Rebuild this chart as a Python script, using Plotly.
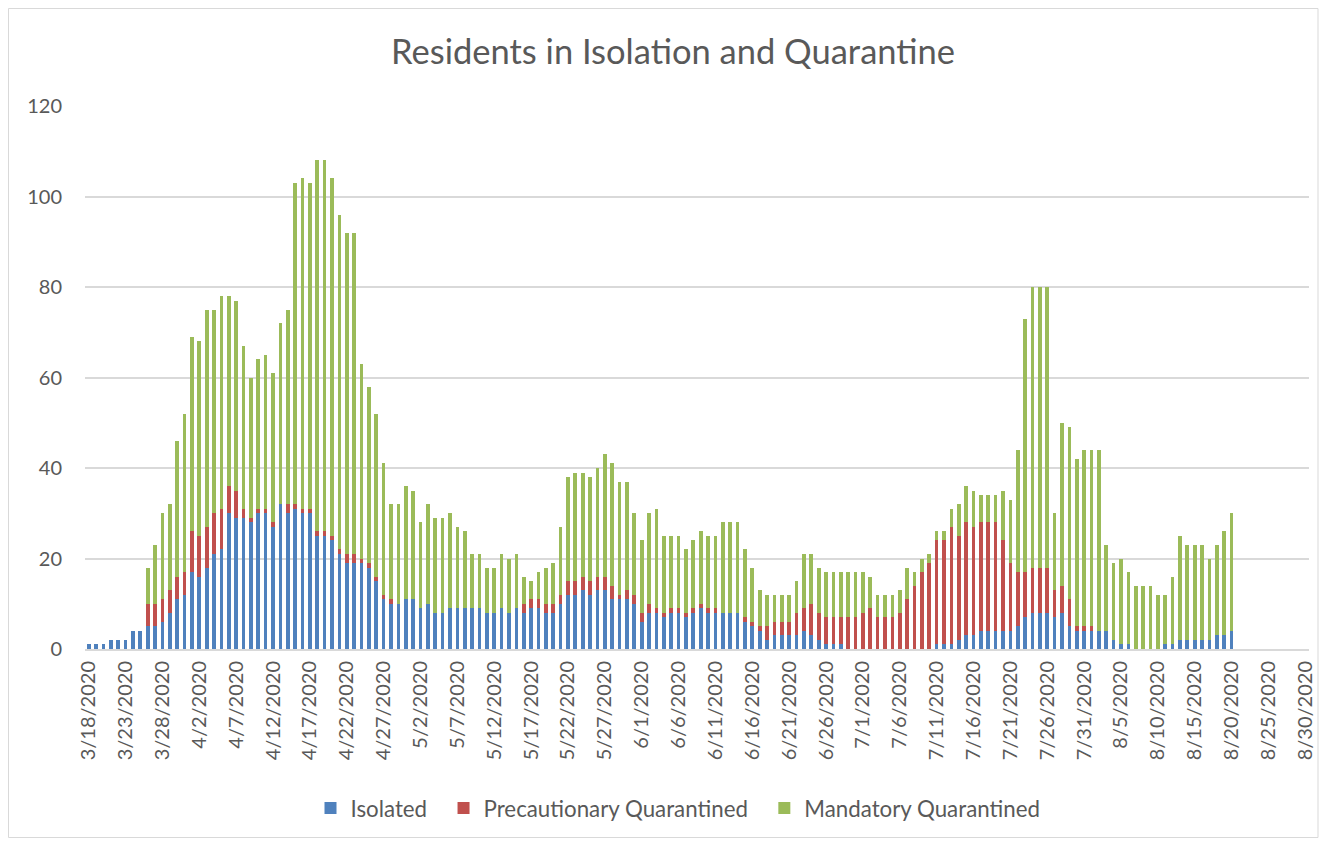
import pandas as pd
import plotly.graph_objects as go

title = "Residents in Isolation and Quarantine"
start_date = "2020-03-18"
end_date = "2020-08-30"
dates = [f"{d.month}/{d.day}/{d.year}" for d in pd.date_range(start_date, end_date, freq="D")]
tick_labels = dates[::5]

isolated = [
    1, 1, 1, 2, 2, 2, 4, 4, 5, 5, 6, 8, 11, 12, 17, 16, 18, 21,
    22, 30, 29, 29, 28, 30, 30, 27, 32, 30, 31, 30, 30, 25, 25, 24, 21, 19, 19, 19, 18, 15, 11, 10, 10,
    11, 11, 9, 10, 8, 8, 9, 9, 9, 9, 9, 8, 8, 9, 8, 9, 8, 9, 9, 8,
    8, 10, 12, 12, 13, 12, 13, 13, 11, 11, 11, 10, 6, 8, 8, 7, 8, 8, 7, 8, 9,
    8, 8, 8, 8, 8, 6, 5, 4, 2, 3, 3, 3, 3, 4, 3, 2, 1, 1, 1, 0,
    0, 0, 0, 0, 0, 0, 0, 0, 0, 0, 0,
    1, 1, 1, 2, 3, 3, 4, 4, 4, 4, 4, 5, 7, 8, 8, 8, 7, 8, 5, 4, 4, 4, 4, 4,
    2, 1, 1, 0, 0, 0, 0, 1, 1, 2, 2, 2, 2, 2, 3, 3, 4,
]
precautionary = [
    0, 0, 0, 0, 0, 0, 0, 0, 5, 5, 5, 5, 5, 5, 9, 9, 9, 9,
    9, 6, 6, 2, 1, 1, 1, 1, 0, 2, 1, 1, 1, 1, 1, 1, 1, 2, 2, 1, 1, 1, 1, 1, 0,
    0, 0, 0, 0, 0, 0, 0, 0, 0, 0, 0, 0, 0, 0, 0, 0, 2, 2, 2, 2,
    2, 2, 3, 3, 3, 3, 3, 3, 3, 1, 2, 2, 2, 2, 1, 1, 1, 1, 1, 1, 1,
    1, 1, 0, 0, 0, 1, 1, 1, 3, 3, 3, 3, 5, 5, 7, 6, 6, 6, 6, 7,
    7, 8, 9, 7, 7, 7, 8, 11, 14, 17, 19,
    23, 23, 26, 23, 25, 24, 24, 24, 24, 20, 15, 12, 10, 10, 10, 10, 6, 6, 6, 1, 1, 1, 0, 0,
    0, 0, 0, 0, 0, 0, 0, 0, 0, 0, 0, 0, 0, 0, 0, 0, 0,
]
mandatory = [
    0, 0, 0, 0, 0, 0, 0, 0, 8, 13, 19, 19, 30, 35, 43, 43, 48, 45,
    47, 42, 42, 36, 31, 33, 34, 33, 40, 43, 71, 73, 72, 82, 82, 79, 74, 71, 71, 43, 39, 36, 29, 21, 22,
    25, 24, 19, 22, 21, 21, 21, 18, 17, 12, 12, 10, 10, 12, 12, 12, 6, 4, 6, 8,
    9, 15, 23, 24, 23, 23, 24, 27, 27, 25, 24, 18, 16, 20, 22, 17, 16, 16, 14, 15, 16,
    16, 16, 20, 20, 20, 15, 12, 8, 7, 6, 6, 6, 7, 12, 11, 10, 10, 10, 10, 10,
    10, 9, 7, 5, 5, 5, 5, 7, 3, 3, 2,
    2, 2, 4, 7, 8, 8, 6, 6, 6, 11, 14, 27, 56, 62, 62, 62, 17, 36, 38, 37, 39, 39, 40, 19,
    17, 19, 16, 14, 14, 14, 12, 11, 15, 23, 21, 21, 21, 18, 20, 23, 26,
]

series = [
    ("Isolated", isolated, "#4F81BD"),
    ("Precautionary Quarantined", precautionary, "#C0504D"),
    ("Mandatory Quarantined", mandatory, "#9BBB59"),
]

FONT = "Lato, 'Open Sans', sans-serif"
TXT = "#595959"
GRID = "#D9D9D9"

fig = go.Figure()
pad = "\u00a0\u00a0"
for i, (name, vals, color) in enumerate(series):
    label = name + (pad if i < len(series) - 1 else "")
    fig.add_trace(go.Bar(
        x=dates[:len(vals)], y=vals, name=label,
        marker=dict(color=color, line=dict(width=0)),
    ))

W, H = 1312, 830
L, R, T, B = 77, 11, 98, 189
pw, ph = W - L - R, H - T - B

def px_to_paper(x, y):
    return (x - L) / pw, (H - B - y) / ph

bx0, by1 = px_to_paper(0.5, 0.5)
bx1, by0 = px_to_paper(1310, 829.5)
lx, ly = px_to_paper(670, 800)

fig.update_layout(
    width=W, height=H,
    margin=dict(l=L, r=R, t=T, b=B, autoexpand=False),
    barmode="stack", bargap=0.5,
    plot_bgcolor="white", paper_bgcolor="white",
    font=dict(family=FONT, color=TXT, size=20),
    title=dict(text=title, x=665 / W, xanchor="center", y=1 - 44 / H, yanchor="middle",
               font=dict(family=FONT, size=34.5, color=TXT)),
    legend=dict(orientation="h", x=lx, xanchor="center", y=ly, yanchor="middle",
                font=dict(size=22.3, color=TXT), traceorder="normal",
                itemwidth=30, bgcolor="rgba(0,0,0,0)"),
    showlegend=True,
    shapes=[dict(type="rect", xref="paper", yref="paper", x0=bx0, x1=bx1, y0=by0, y1=by1,
                 line=dict(color=GRID, width=1), fillcolor="rgba(0,0,0,0)", layer="below")],
)
fig.update_xaxes(
    type="category", categoryorder="array", categoryarray=dates,
    range=[-0.5, len(dates) - 0.5],
    tickmode="array", tickvals=tick_labels, ticktext=tick_labels,
    tickangle=-90, showgrid=False, showline=True, linecolor=GRID, linewidth=2,
    ticks="", ticklabelstandoff=2, tickfont=dict(size=20, color=TXT),
)
fig.update_yaxes(
    range=[0, 120], tickvals=[0, 20, 40, 60, 80, 100, 120],
    showgrid=True, gridcolor=GRID, gridwidth=2, zeroline=False, showline=False,
    ticks="", ticklabelstandoff=22, tickfont=dict(size=20, color=TXT),
)

fig.write_html("out.html")
